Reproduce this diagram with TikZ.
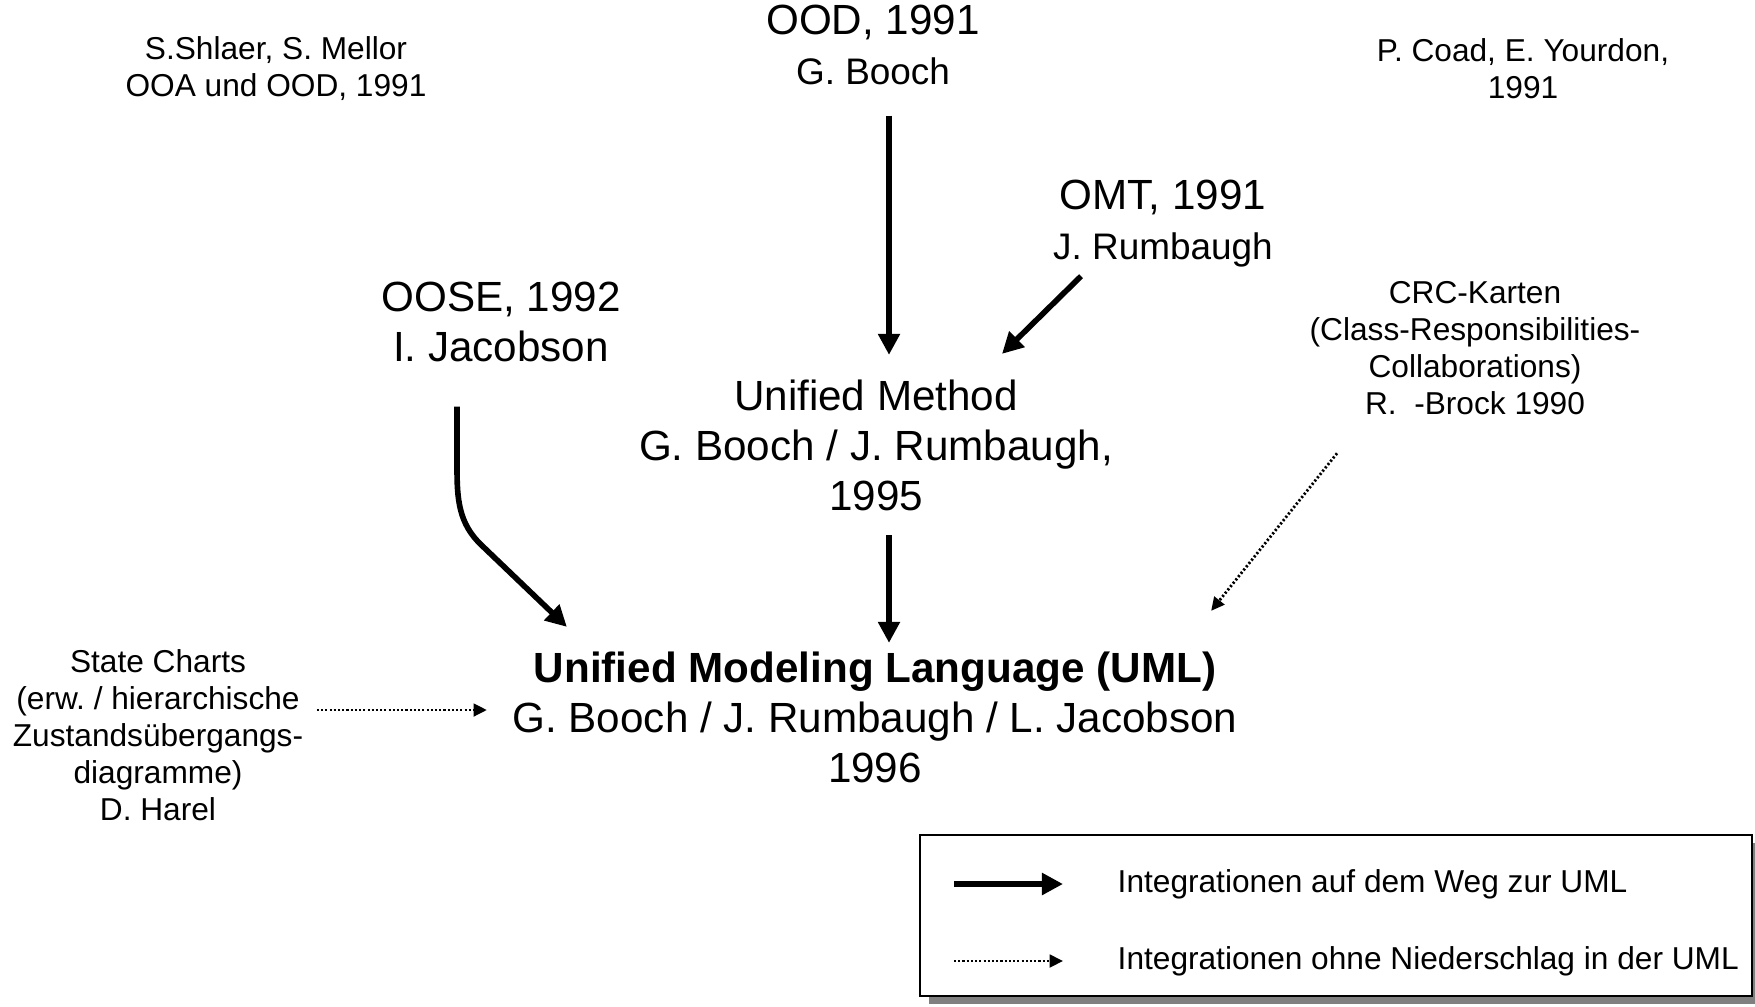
\documentclass[tikz,border=0pt]{standalone}
\usepackage{fontspec}
\setmainfont{Liberation Sans}
\usetikzlibrary{arrows.meta}
\frenchspacing

\begin{document}
\begin{tikzpicture}[x=0.01cm, y=-0.01cm,
    methodtext/.style={align=center, inner sep=0pt, font=\fontsize{12}{14.2}\selectfont},
    notetext/.style={align=center, inner sep=0pt, font=\fontsize{9}{10.5}\selectfont},
    way/.style={line width=1.6pt, -{Triangle[length=6pt,width=6pt]}},
    noway/.style={line width=0.8pt, dash pattern=on 0.6pt off 0.6pt, -{Triangle[length=3.8pt,width=3.6pt]}}]
    \useasboundingbox (0,0) rectangle (1755,1006);

    % Methods
    \node[methodtext] (ood) at (873,45) {OOD, 1991\\\fontsize{10.5}{13.2}\selectfont G. Booch};
    \node[methodtext] (omt) at (1163,224) {OMT, 1991\\\fontsize{10.5}{13.2}\selectfont J. Rumbaugh};
    \node[methodtext] (oose) at (501,322) {OOSE, 1992\\I. Jacobson};
    \node[methodtext] (um) at (876,445) {Unified Method\\G. Booch / J. Rumbaugh,\\1995};
    \node[methodtext] (uml) at (875,717) {\textbf{Unified Modeling Language (UML)}\\G. Booch / J. Rumbaugh / L. Jacobson\\1996};

    % Other approaches
    \node[notetext] (shlaer) at (276,69) {S.Shlaer, S. Mellor\\OOA und OOD, 1991};
    \node[notetext] (coad) at (1523,69) {P. Coad, E. Yourdon,\\1991};
    \node[notetext] (crc) at (1475,348) {CRC-Karten\\(Class-Responsibilities-\\Collaborations)\\R.\ \ -Brock 1990};
    \node[notetext] (harel) at (158,735) {State Charts\\(erw. / hierarchische\\Zustandsübergangs-\\diagramme)\\D. Harel};

    % Integrations
    \draw[way] ([shift={(16,30)}]ood.south) -- ([shift={(13,-24)}]um.north);
    \draw[way] ([shift={(-82,8)}]omt.south) -- ([shift={(126,-25)}]um.north);
    \draw[way] ([shift={(13,24)}]um.south) -- ([shift={(14,-8)}]uml.north);
    \draw[way] ([shift={(-44,44)}]oose.south) -- ++(0,60) to[out=-90,in=137] ++(25,79) -- ([shift={(55,-24)}]uml.north west);
    \draw[noway] ([shift={(-138,38)}]crc.south) -- ([shift={(-27,-40)}]uml.north east);
    \draw[noway] ([shift={(13,-25)}]harel.east) -- ([shift={(-25,-7)}]uml.west);

    % Legend
    \fill[gray] (929,843) rectangle (1761,1004);
    \draw[line width=0.7pt, fill=white] (920,835) rectangle (1752,996);
    \coordinate (w1) at (954,884);
    \coordinate (w2) at (1063,884);
    \coordinate (n1) at (954,961);
    \coordinate (n2) at (1063,961);
    \draw[way] (w1) -- (w2);
    \draw[noway] (n1) -- (n2);
    \node[notetext, anchor=west] (waytext) at (1117,884) {Integrationen auf dem Weg zur UML};
    \node[notetext, anchor=west] (nowaytext) at (1117,961) {Integrationen ohne Niederschlag in der UML};
\end{tikzpicture}
\end{document}
